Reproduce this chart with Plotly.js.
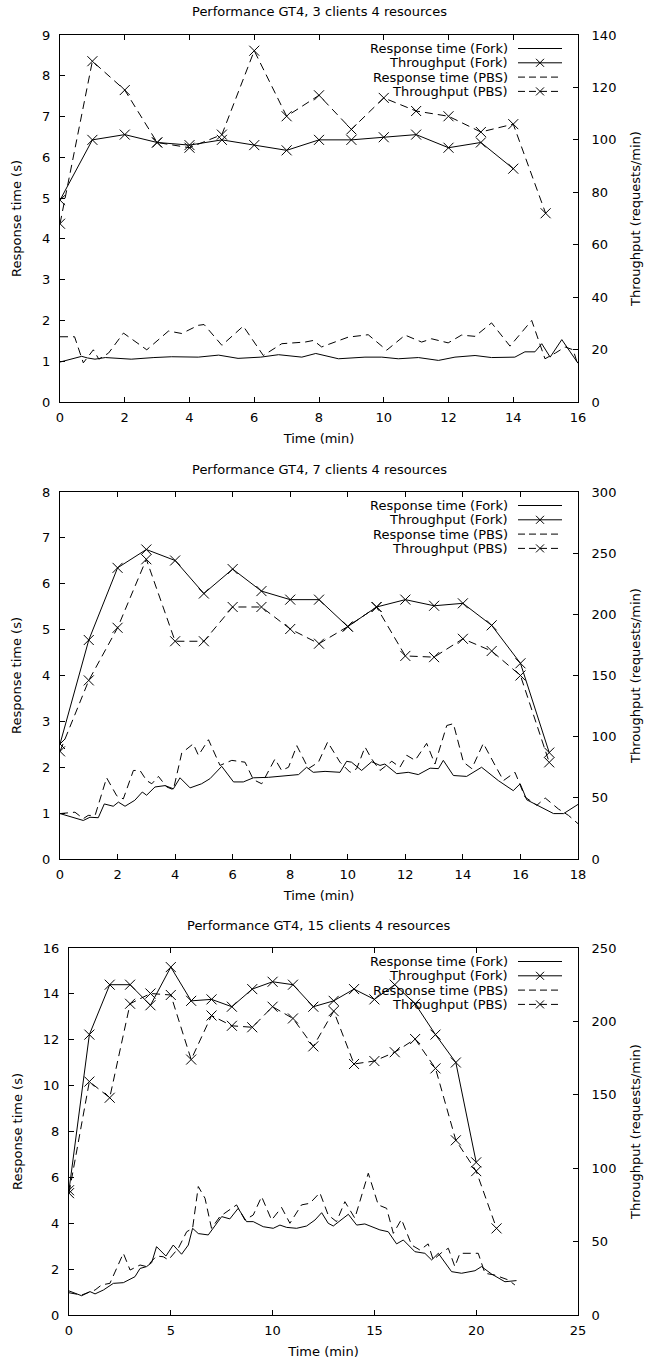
<!DOCTYPE html>
<html><head><meta charset="utf-8">
<script src="https://cdn.plot.ly/plotly-3.0.1.min.js"></script>
<style>html,body{margin:0;padding:0;background:#fff}</style>
</head><body><div id="chart" style="width:645px;height:1364px"></div>
<script>
// ---------- Panel 1: 3 clients ----------
const p1TpTimeFork = [0,1,2,3,4,5,6,7,8,9,10,11,12,13,14];
const p1TpFork = [77,100,102,99,98,100,98,96,100,100,101,102,97,99,89];
const p1TpTimePbs = [0,1,2,3,4,5,6,7,8,9,10,11,12,13,14,15];
const p1TpPbs = [68,130,119,99,97,102,134,109,117,104,116,111,109,103,106,72];
const p1RtTimeFork = [0,0.67,0.85,1.08,1.4,2.2,2.9,3.45,4.27,4.9,5.5,6.2,6.75,7.47,7.9,8.6,9.42,9.94,10.45,11.07,11.69,12.2,12.82,13.33,14.05,14.36,14.67,14.88,15.14,15.5,16];
const p1RtFork = [0.98,1.12,1.08,1.05,1.09,1.05,1.09,1.11,1.1,1.15,1.07,1.1,1.16,1.1,1.19,1.06,1.1,1.1,1.06,1.09,1.02,1.1,1.14,1.09,1.1,1.23,1.23,1.43,1.1,1.53,0.95];
const p1RtTimePbs = [0,0.45,0.72,1.03,1.2,1.5,1.96,2.68,3.35,3.76,4.27,4.45,5.0,5.66,6.28,6.85,7.57,7.83,8.08,8.9,9.52,10.09,10.66,11.17,11.48,11.99,12.4,12.82,13.33,13.9,14.57,14.98,15.3,15.6,15.85,16];
const p1RtPbs = [1.6,1.6,0.96,1.28,1.05,1.2,1.69,1.28,1.74,1.68,1.88,1.9,1.39,1.86,1.14,1.43,1.47,1.51,1.35,1.59,1.65,1.27,1.64,1.47,1.55,1.45,1.64,1.61,1.94,1.37,2.0,1.06,1.2,1.35,1.28,0.9];

// ---------- Panel 2: 7 clients ----------
const p2TpTimeFork = [0,1,2,3,4,5,6,7,8,9,10,11,12,13,14,15,16,17];
const p2TpFork = [94,179,238,253,244,217,237,219,212,212,190,206,212,207,209,191,160,87];
const p2TpTimePbs = [0,1,2,3,4,5,6,7,8,9,10,11,12,13,14,15,16,17];
const p2TpPbs = [88,146,189,245,178,178,206,206,188,176,190,206,166,165,180,170,150,79];
const p2RtTimeFork = [0,0.81,1.04,1.33,1.54,1.85,2.03,2.26,2.6,2.86,3.01,3.3,3.65,3.94,4.17,4.52,4.92,5.21,5.62,6.03,6.37,6.72,7.24,7.7,8.29,8.57,8.8,9.21,9.73,9.96,10.13,10.48,10.83,11.12,11.29,11.7,12.1,12.45,12.86,13.15,13.32,13.67,14.13,14.65,15.23,15.75,15.99,16.22,16.74,17.15,17.5,18];
const p2RtFork = [0.99,0.84,0.91,0.9,1.2,1.15,1.24,1.15,1.28,1.46,1.39,1.57,1.6,1.53,1.77,1.55,1.64,1.75,2.02,1.68,1.68,1.77,1.78,1.8,1.84,2.0,1.89,1.91,1.89,2.13,2.11,1.93,2.12,2.04,2.07,1.86,1.89,1.84,1.98,1.97,2.15,1.82,1.8,2.0,1.71,1.49,1.64,1.29,1.13,0.99,0.99,1.19];
const p2RtTimePbs = [0,0.52,0.81,0.98,1.22,1.62,1.97,2.2,2.55,2.78,3.01,3.19,3.42,3.71,3.94,4.23,4.63,4.81,5.16,5.56,5.97,6.43,6.72,7.01,7.47,7.7,7.94,8.23,8.63,8.98,9.3,9.73,10.08,10.31,10.6,10.83,11.12,11.53,11.81,12.05,12.34,12.74,13.03,13.44,13.67,14.02,14.31,14.71,15.12,15.41,15.81,16.16,16.57,16.86,17.32,17.67,18];
const p2RtPbs = [0.99,1.02,0.88,0.95,0.95,1.77,1.38,1.31,1.93,1.93,1.71,1.64,1.8,1.57,1.51,2.31,2.51,2.26,2.6,2.04,2.15,2.11,1.73,1.64,2.18,1.93,2.0,2.47,1.97,2.11,2.55,2.11,1.89,1.97,2.44,2.18,1.93,2.13,2.0,2.26,2.15,2.52,2.07,2.91,2.95,2.11,1.97,2.52,2.04,1.71,1.89,1.35,1.17,1.33,1.09,0.95,0.77];

// ---------- Panel 3: 15 clients ----------
const p3TpTimeFork = [0,1,2,3,4,5,6,7,8,9,10,11,12,13,14,15,16,17,18,19,20];
const p3TpFork = [85,191,225,225,211,237,214,215,210,222,227,225,210,214,222,215,225,212,191,172,104];
const p3TpTimePbs = [0,1,2,3,4,5,6,7,8,9,10,11,12,13,14,15,16,17,18,19,20,21];
const p3TpPbs = [83,159,148,212,219,218,174,204,197,196,210,202,183,207,171,173,179,188,168,119,98,59];
const p3RtTimeFork = [0,0.62,1.03,1.28,1.69,2.18,2.67,2.91,3.24,3.49,3.81,4.06,4.3,4.76,5.12,5.53,5.86,6.07,6.35,6.84,7.09,7.5,7.9,8.31,8.72,9.05,9.54,10.03,10.36,10.69,11.18,11.67,12.08,12.41,12.73,12.98,13.72,14.13,14.53,15.27,15.68,16.09,16.42,16.99,17.48,17.81,18.14,18.79,19.28,19.94,20.26,20.75,21.41,21.98];
const p3RtFork = [1.05,0.84,1.02,0.92,1.09,1.38,1.41,1.53,1.67,2.03,2.11,2.28,2.98,2.57,3.05,2.65,3.05,3.78,3.55,3.49,3.78,4.29,4.19,4.65,4.07,4.07,3.85,3.78,3.92,3.82,3.78,3.88,4.14,4.46,4.0,3.88,4.39,3.92,3.97,3.71,3.63,3.1,3.27,2.76,2.69,2.4,2.69,1.89,1.82,1.93,2.11,1.79,1.45,1.5];
const p3RtTimePbs = [0,0.62,1.28,1.6,2.01,2.67,3.0,3.49,3.81,4.3,4.63,4.88,5.37,5.78,6.07,6.35,6.68,7.0,7.41,8.23,8.64,9.05,9.46,9.95,10.44,10.85,11.42,11.83,12.32,12.73,13.14,13.55,14.04,14.7,15.19,15.6,15.93,16.33,16.83,17.24,17.64,17.89,18.3,18.63,18.95,19.2,20.1,20.43,20.92,21.57,21.9];
const p3RtPbs = [0.97,0.87,1.09,1.31,1.38,2.69,1.96,2.18,2.11,2.57,2.54,2.4,2.91,3.63,3.78,5.6,5.09,3.78,4.29,4.8,4.14,4.36,5.16,4.14,4.69,4.0,4.8,4.87,5.33,4.36,4.07,4.94,4.22,6.18,4.8,4.65,3.56,4.17,3.05,2.83,3.1,2.4,2.72,2.91,2.11,2.69,2.69,1.82,1.74,1.53,1.31];

const panelTitles = ["Performance GT4, 3 clients 4 resources","Performance GT4, 7 clients 4 resources","Performance GT4, 15 clients 4 resources"];
const legendLabels = ["Response time (Fork)","Throughput (Fork)","Response time (PBS)","Throughput (PBS)"];
const xTitle = "Time (min)";
const yTitle = "Response time (s)";
const y2Title = "Throughput (requests/min)";

// ---------- layout geometry ----------
const W=645,H=1364,ML=60,MR=67,MT=35,MB=49;
const PW=W-ML-MR, PH=H-MT-MB;
const px = X => (X-ML)/PW;
const py = Y => (H-MB-Y)/PH;
const boxes = [
  {l:60,r:578,t:35,b:402, xr:[0,16], yr:[0,9], ydt:1, y2r:[0,140], y2dt:20, xdt:2},
  {l:60,r:578,t:492,b:859, xr:[0,18], yr:[0,8], ydt:1, y2r:[0,300], y2dt:50, xdt:2},
  {l:69,r:578,t:948,b:1315, xr:[0,25], yr:[0,16], ydt:2, y2r:[0,250], y2dt:50, xdt:5}
];
const data = [
  {rtTF:p1RtTimeFork, rtF:p1RtFork, tpTF:p1TpTimeFork, tpF:p1TpFork, rtTP:p1RtTimePbs, rtP:p1RtPbs, tpTP:p1TpTimePbs, tpP:p1TpPbs},
  {rtTF:p2RtTimeFork, rtF:p2RtFork, tpTF:p2TpTimeFork, tpF:p2TpFork, rtTP:p2RtTimePbs, rtP:p2RtPbs, tpTP:p2TpTimePbs, tpP:p2TpPbs},
  {rtTF:p3RtTimeFork, rtF:p3RtFork, tpTF:p3TpTimeFork, tpF:p3TpFork, rtTP:p3RtTimePbs, rtP:p3RtPbs, tpTP:p3TpTimePbs, tpP:p3TpPbs}
];

const FONT = {family:"DejaVu Sans, sans-serif", size:13, color:"#000"};
const DASH = "8px,5px";
const mk = {symbol:"x-thin", size:10, color:"#000", line:{color:"#000", width:1}};

const traces = [];
const layout = {
  width:W, height:H, margin:{l:ML,r:MR,t:MT,b:MB,pad:0},
  paper_bgcolor:"#fff", plot_bgcolor:"#fff", showlegend:false,
  font:FONT, annotations:[], shapes:[]
};

boxes.forEach((b,i)=>{
  const n=i+1;
  const xa = i===0?"x":"x"+n;
  const ya = "y"+(2*i+1===1?"":(2*i+1));
  const y2a = "y"+(2*i+2);
  const d = data[i];
  traces.push({x:d.rtTF, y:d.rtF, xaxis:xa, yaxis:ya, mode:"lines", line:{color:"#000",width:1}, name:legendLabels[0]});
  traces.push({x:d.tpTF, y:d.tpF, xaxis:xa, yaxis:y2a, mode:"lines+markers", line:{color:"#000",width:1}, marker:mk, name:legendLabels[1]});
  traces.push({x:d.rtTP, y:d.rtP, xaxis:xa, yaxis:ya, mode:"lines", line:{color:"#000",width:1,dash:DASH}, name:legendLabels[2]});
  traces.push({x:d.tpTP, y:d.tpP, xaxis:xa, yaxis:y2a, mode:"lines+markers", line:{color:"#000",width:1,dash:DASH}, marker:mk, name:legendLabels[3]});

  const xk = i===0?"xaxis":"xaxis"+n;
  const yk = "yaxis"+(2*i+1===1?"":(2*i+1));
  const y2k = "yaxis"+(2*i+2);
  const common = {showgrid:false, zeroline:false, showline:true, linecolor:"#000", linewidth:1, ticks:"inside", ticklen:5, tickcolor:"#000", tickwidth:1, tickfont:FONT, fixedrange:true};
  layout[xk] = Object.assign({}, common, {domain:[px(b.l),px(b.r)], anchor:ya, range:b.xr, dtick:b.xdt, tick0:0, mirror:"ticks", ticklabelstandoff:3,
      title:{text:xTitle, font:FONT, standoff:10}});
  layout[yk] = Object.assign({}, common, {domain:[py(b.b),py(b.t)], anchor:xa, range:b.yr, dtick:b.ydt, tick0:0, ticklabelstandoff:6,
      title:{text:yTitle, font:FONT, standoff:17}});
  layout[y2k] = Object.assign({}, common, {domain:[py(b.b),py(b.t)], anchor:xa, overlaying:ya, side:"right", range:b.y2r, dtick:b.y2dt, tick0:0, ticklabelstandoff:10,
      title:{text:y2Title, font:FONT, standoff:15}});

  // panel title
  layout.annotations.push({text:panelTitles[i], xref:"paper", yref:"paper", x:px((60+578)/2), y:py(b.t-23), xanchor:"center", yanchor:"middle", showarrow:false, font:FONT});

  // custom gnuplot-style key (text right, sample to the right)
  const styles = [{dash:"solid",m:false},{dash:"solid",m:true},{dash:"7px,4px",m:false},{dash:"7px,4px",m:true}];
  legendLabels.forEach((lab,k)=>{
    const Y = b.t + 13.5 + k*14.3;
    layout.annotations.push({text:lab, xref:"paper", yref:"paper", x:px(510), y:py(Y), xanchor:"right", yanchor:"middle", showarrow:false, font:FONT});
    layout.shapes.push({type:"line", xref:"paper", yref:"paper", x0:px(518), x1:px(562), y0:py(Y), y1:py(Y), line:{color:"#000", width:1, dash:styles[k].dash}});
    if(styles[k].m){
      layout.shapes.push({type:"line", xref:"paper", yref:"paper", x0:px(536), x1:px(544), y0:py(Y-4), y1:py(Y+4), line:{color:"#000", width:1}});
      layout.shapes.push({type:"line", xref:"paper", yref:"paper", x0:px(536), x1:px(544), y0:py(Y+4), y1:py(Y-4), line:{color:"#000", width:1}});
    }
  });
});

Plotly.newPlot("chart", traces, layout, {staticPlot:true, displayModeBar:false});
</script>
</body></html>
